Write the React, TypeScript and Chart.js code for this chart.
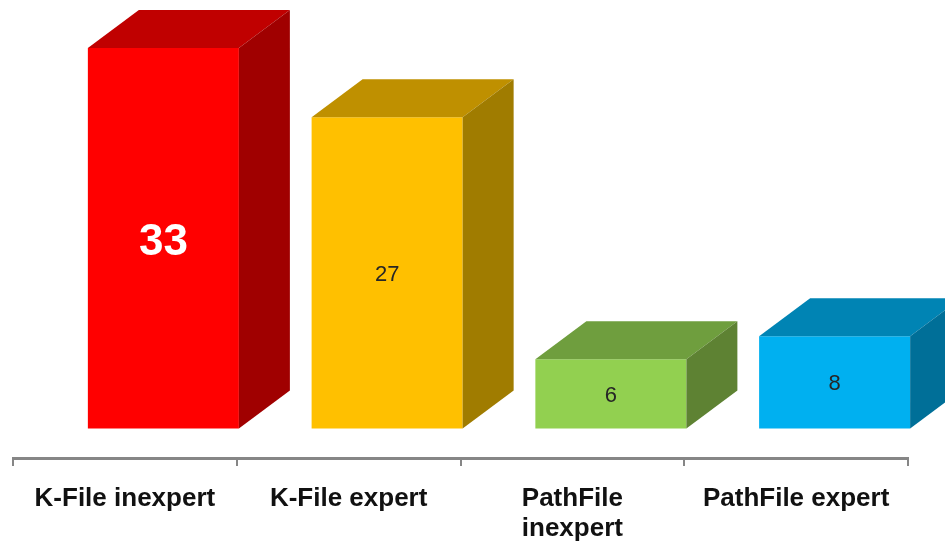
import React, { useEffect, useRef } from "react";
import { Chart, registerables } from "chart.js";

Chart.register(...registerables);

const categories: (string | string[])[] = ["K-File inexpert", "K-File expert", ["PathFile", "inexpert"], "PathFile expert"];
const values = [33, 27, 6, 8];
const frontColors = ["#ff0000", "#ffc000", "#92d050", "#00b0f0"];
const topColors = ["#c00000", "#bf9000", "#6f9e3e", "#0084b4"];
const sideColors = ["#a00000", "#a07c00", "#5e8233", "#006f98"];
const labelColors = ["#ffffff", "#262626", "#262626", "#262626"];
const labelFonts = ["bold 44px 'Liberation Sans'", "22px 'Liberation Sans'", "22px 'Liberation Sans'", "22px 'Liberation Sans'"];
const labelDrop = [5, 2, 2, 2];

const SHIFT_X = 38.5;
const DEPTH_X = 51;
const DEPTH_Y = 38;

const box3d = {
  id: "box3d",
  beforeDatasetsDraw(chart: any) {
    chart.ctx.save();
    chart.ctx.translate(SHIFT_X, 0);
  },
  afterDatasetsDraw(chart: any) {
    const ctx = chart.ctx;
    const bars = chart.getDatasetMeta(0).data;
    bars.forEach((bar: any, i: number) => {
      const { x, y, base, width } = bar.getProps(["x", "y", "base", "width"], true);
      const l = x - width / 2;
      const r = x + width / 2;
      ctx.fillStyle = topColors[i];
      ctx.beginPath();
      ctx.moveTo(l, y);
      ctx.lineTo(l + DEPTH_X, y - DEPTH_Y);
      ctx.lineTo(r + DEPTH_X, y - DEPTH_Y);
      ctx.lineTo(r, y);
      ctx.closePath();
      ctx.fill();
      ctx.fillStyle = sideColors[i];
      ctx.beginPath();
      ctx.moveTo(r, y);
      ctx.lineTo(r + DEPTH_X, y - DEPTH_Y);
      ctx.lineTo(r + DEPTH_X, base - DEPTH_Y);
      ctx.lineTo(r, base);
      ctx.closePath();
      ctx.fill();
      ctx.fillStyle = labelColors[i];
      ctx.font = labelFonts[i];
      ctx.textAlign = "center";
      ctx.textBaseline = "middle";
      ctx.fillText(String(values[i]), x, (y + base) / 2 + labelDrop[i]);
    });
    ctx.restore();
  },
};

export default function App() {
  const ref = useRef<HTMLCanvasElement>(null);
  useEffect(() => {
    const chart = new Chart(ref.current!, {
      type: "bar",
      data: {
        labels: categories as any,
        datasets: [
          {
            data: values,
            backgroundColor: frontColors,
            base: 0,
            barPercentage: 0.675,
            categoryPercentage: 1,
            clip: false,
          } as any,
        ],
      },
      options: {
        animation: false,
        responsive: false,
        devicePixelRatio: 1,
        layout: { padding: { left: 13, right: 37, top: 0, bottom: 0 } },
        plugins: { legend: { display: false }, tooltip: { enabled: false } },
        scales: {
          x: {
            afterFit: (s: any) => {
              s.height = 84;
            },
            border: { display: true, color: "#868686", width: 3 },
            grid: { drawOnChartArea: false, drawTicks: true, tickLength: 8, color: "#868686", lineWidth: 2, offset: true },
            ticks: {
              autoSkip: false,
              maxRotation: 0,
              minRotation: 0,
              padding: 18,
              color: "#111111",
              font: { family: "'Liberation Sans'", size: 26, weight: "bold", lineHeight: 1.15 },
            },
          },
          y: { display: false, min: -2.56, max: 37.16 },
        },
      } as any,
      plugins: [box3d],
    });
    return () => chart.destroy();
  }, []);
  return (
    <div style={{ position: "fixed", left: 0, top: 0, width: 945, height: 542, background: "#ffffff", overflow: "hidden" }}>
      <canvas ref={ref} width={945} height={542} style={{ display: "block" }} />
    </div>
  );
}
